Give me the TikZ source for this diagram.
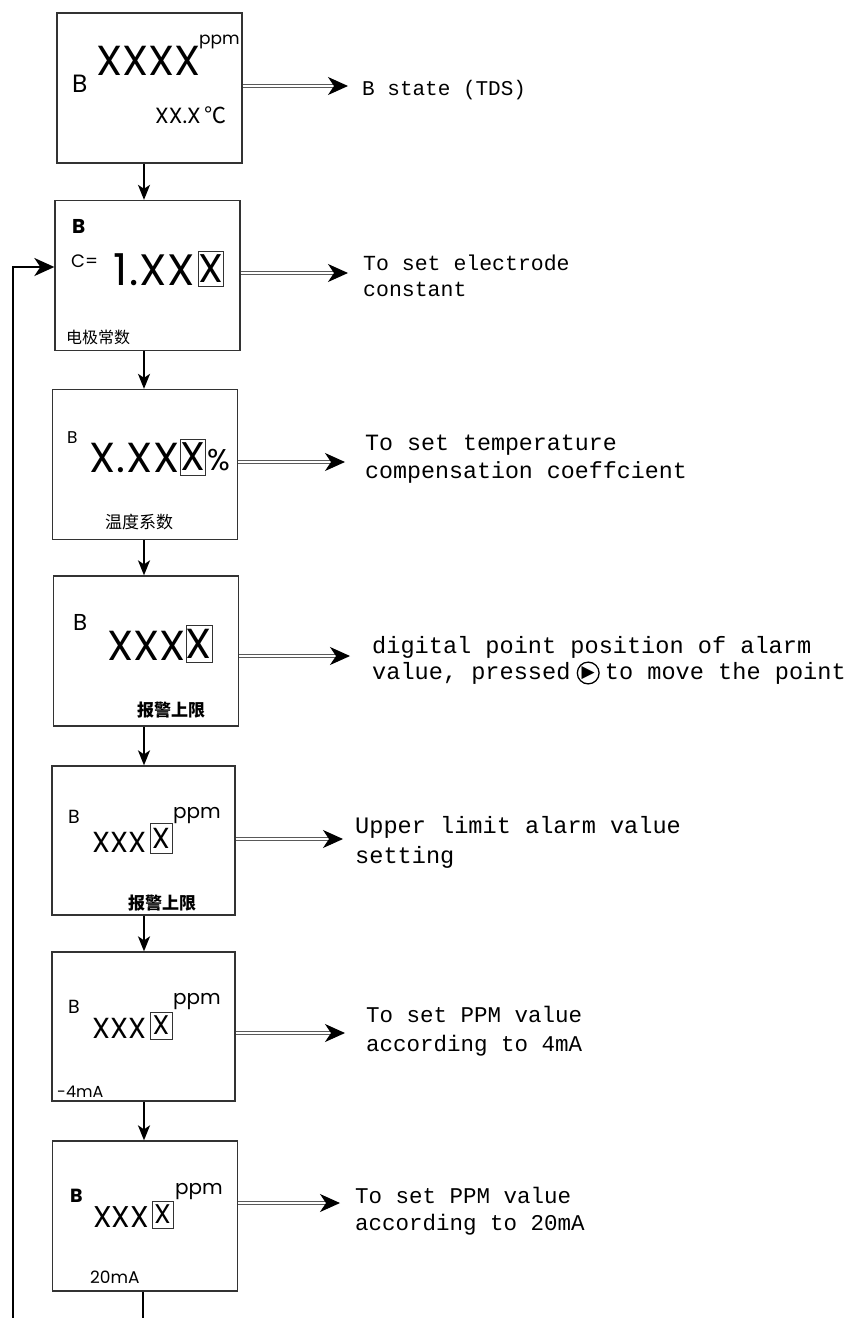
\documentclass[tikz,border=0pt]{standalone}
\usepackage{fontspec}
\setmainfont{Liberation Serif}
\newfontfamily\monofont{Liberation Mono}
\newfontfamily\lcdfont{Poppins}
\newfontfamily\cjk{Noto Sans CJK SC}
\newfontfamily\symfont{DejaVu Sans}
\usetikzlibrary{arrows.meta}
\newcommand\fsz[1]{\fontsize{#1}{1.2\dimexpr#1pt\relax}\selectfont}
\newcommand\msz[2]{\fontsize{#1}{#2}\selectfont}

\begin{document}
\begin{tikzpicture}[x=1pt,y=-1pt,
  panel/.style={draw=black!80, line width=1.3pt, inner sep=0pt,
                minimum width=185pt, minimum height=150pt},
  lcd/.style={anchor=base west, inner sep=0pt, font=\lcdfont},
  cn/.style={anchor=west, inner sep=0pt, font=\cjk},
  xbox/.style={draw=black!80, line width=0.9pt, inner sep=0pt, font=\lcdfont},
  note/.style={anchor=west, inner sep=0pt, align=left},
  flow/.style={line width=2pt, -{Stealth[length=15pt,width=12pt,inset=4pt]}},
  loop/.style={line width=2.6pt},
  link/.style={draw=black!65, double=white, line width=1.1pt, double distance=2.6pt,
               -{Stealth[length=20pt,width=18pt,inset=6pt,color=black]}}
]
\useasboundingbox (0,0) rectangle (865,1318);

% ---------- display panels ----------
\node[panel] (b1) at (149.5,88)   {};
\node[panel] (b2) at (147.5,275.5){};
\node[panel] (b3) at (145,464.5)  {};
\node[panel] (b4) at (146,651)    {};
\node[panel, minimum width=183pt, minimum height=149pt] (b5) at (143.5,840.5) {};
\node[panel, minimum width=183pt, minimum height=149pt] (b6) at (143.5,1026.5){};
\node[panel] (b7) at (145,1216)   {};

% panel 1: B state
\node[lcd, font=\lcdfont\fsz{25}] (b1l) at (72,92) {B};
\node[lcd, font=\lcdfont\fsz{42}] (b1v) at (96,75) {XXXX};
\node[lcd, font=\lcdfont\fsz{17}] (b1u) at (199,44) {ppm};
\node[lcd, font=\lcdfont\fsz{22}] (b1t) at (155,123) {XX.X\,{\cjk ℃}};

% panel 2: electrode constant
\node[lcd, font=\lcdfont\bfseries\fsz{20}] (b2l) at (72,233) {B};
\node[lcd, font=\lcdfont\fsz{18}] (b2c) at (71,267) {C=};
\node[lcd, font=\lcdfont\fsz{44}] (b2v) at (113,285) {1\kern2pt.\kern1ptX\kern1ptX};
\node[xbox, minimum width=24pt, minimum height=35pt, font=\lcdfont\fsz{40}] (b2x) at (211,268.5) {X};
\node[cn, font=\cjk\fsz{16}] (b2n) at (66,337) {电极常数};

% panel 3: temperature coefficient
\node[lcd, font=\lcdfont\fsz{17}] (b3l) at (67,443) {B};
\node[lcd, font=\lcdfont\fsz{42}] (b3v) at (89,472) {X\kern1pt.\kern1ptX\kern1ptX};
\node[xbox, minimum width=22pt, minimum height=36pt, font=\lcdfont\fsz{40}] (b3x) at (193,457) {X};
\node[lcd, font=\lcdfont\fsz{30}] (b3p) at (207,470) {\%};
\node[cn, font=\cjk\fsz{17}] (b3n) at (105,522) {温度系数};

% panel 4: decimal point of alarm value
\node[lcd, font=\lcdfont\fsz{23}] (b4l) at (73,630) {B};
\node[lcd, font=\lcdfont\fsz{42}] (b4v) at (107,660) {XXX};
\node[xbox, minimum width=24pt, minimum height=37pt, font=\lcdfont\fsz{42}] (b4x) at (199,643.5) {X};
\node[cn, font=\cjk\bfseries\fsz{17}] (b4n) at (137,710) {报警上限};

% panel 5: upper limit alarm value
\node[lcd, font=\lcdfont\fsz{19}] (b5l) at (68,823) {B};
\node[lcd, font=\lcdfont\fsz{20}] (b5u) at (173,818) {ppm};
\node[lcd, font=\lcdfont\fsz{29}] (b5v) at (92,852) {XXX};
\node[xbox, minimum width=22pt, minimum height=30pt, font=\lcdfont\fsz{29}] (b5x) at (161,838) {X};
\node[cn, font=\cjk\bfseries\fsz{17}] (b5n) at (128,903) {报警上限};

% panel 6: 4 mA point
\node[lcd, font=\lcdfont\fsz{19}] (b6l) at (68,1013) {B};
\node[lcd, font=\lcdfont\fsz{20}] (b6u) at (173,1004) {ppm};
\node[lcd, font=\lcdfont\fsz{29}] (b6v) at (92,1038) {XXX};
\node[xbox, minimum width=22pt, minimum height=27pt, font=\lcdfont\fsz{27}] (b6x) at (161,1025.5) {X};
\node[lcd, font=\lcdfont\fsz{16}] (b6m) at (57,1097) {-4mA};

% panel 7: 20 mA point
\node[lcd, font=\lcdfont\bfseries\fsz{19}] (b7l) at (70,1202) {B};
\node[lcd, font=\lcdfont\fsz{20}] (b7u) at (175,1194) {ppm};
\node[lcd, font=\lcdfont\fsz{30}] (b7v) at (93,1227) {XXX};
\node[xbox, minimum width=21pt, minimum height=27pt, font=\lcdfont\fsz{27}] (b7x) at (162.5,1214.5) {X};
\node[lcd, font=\lcdfont\fsz{17}] (b7m) at (90,1283) {20mA};

% ---------- descriptions ----------
\node[note, font=\monofont\msz{21}{26}] (n1) at (362,90) {B state (TDS)};
\node[note, font=\monofont\msz{21.5}{26}] (n2) at (363,276) {To set electrode\\constant};
\node[note, font=\monofont\msz{23.3}{28}] (n3) at (365,459) {To set temperature\\compensation coeffcient};
\node[anchor=base west, inner sep=0pt, font=\monofont\msz{23.6}{28}] (n4a) at (372,653) {digital point position of alarm};
\node[anchor=base west, inner sep=0pt, font=\monofont\msz{23.6}{28}] (n4b) at (372,679) {value, pressed};
\node[circle, draw, line width=1.3pt, inner sep=1.2pt, anchor=west, font=\symfont\fsz{17}]
  (btn) at ([xshift=6pt,yshift=6pt]n4b.base east) {▶};
\node[anchor=base west, inner sep=0pt, font=\monofont\msz{23.6}{28}] (n4c) at ([xshift=5pt]btn.east |- n4b.base) {to move the point};
\node[note, font=\monofont\msz{23.6}{30}] (n5) at (355,842) {Upper limit alarm value\\setting};
\node[note, font=\monofont\msz{22.5}{29}] (n6) at (366,1031) {To set PPM value\\according to 4mA};
\node[note, font=\monofont\msz{22.5}{27}] (n7) at (355,1211) {To set PPM value\\according to 20mA};

% ---------- arrows to descriptions ----------
\coordinate (a1) at (348,86);
\coordinate (a2) at (348,273);
\coordinate (a3) at (345,462);
\coordinate (a4) at (350,656);
\coordinate (a5) at (343,839);
\coordinate (a6) at (345,1033);
\coordinate (a7) at (340,1203);
\draw[link] (b1.east |- a1) -- (a1);
\draw[link] (b2.east |- a2) -- (a2);
\draw[link] (b3.east |- a3) -- (a3);
\draw[link] (b4.east |- a4) -- (a4);
\draw[link] (b5.east |- a5) -- (a5);
\draw[link] (b6.east |- a6) -- (a6);
\draw[link] (b7.east |- a7) -- (a7);

% ---------- main sequence ----------
\coordinate (spine) at (144,0);
\draw[flow] (b1.south -| spine) -- (b2.north -| spine);
\draw[flow] (b2.south -| spine) -- (b3.north -| spine);
\draw[flow] (b3.south -| spine) -- (b4.north -| spine);
\draw[flow] (b4.south -| spine) -- (b5.north -| spine);
\draw[flow] (b5.south -| spine) -- (b6.north -| spine);
\draw[flow] (b6.south -| spine) -- (b7.north -| spine);

% ---------- return path to the electrode constant ----------
\coordinate (ret) at (143,1320);
\coordinate (side) at (13,1320);
\coordinate (entry) at (13,267);
\draw[loop] (b7.south -| ret) -- (ret);
\draw[loop, -{Stealth[length=20pt,width=18pt,inset=6pt]}]
  (side) -- (entry) -- (b2.west |- entry);
\end{tikzpicture}
\end{document}
